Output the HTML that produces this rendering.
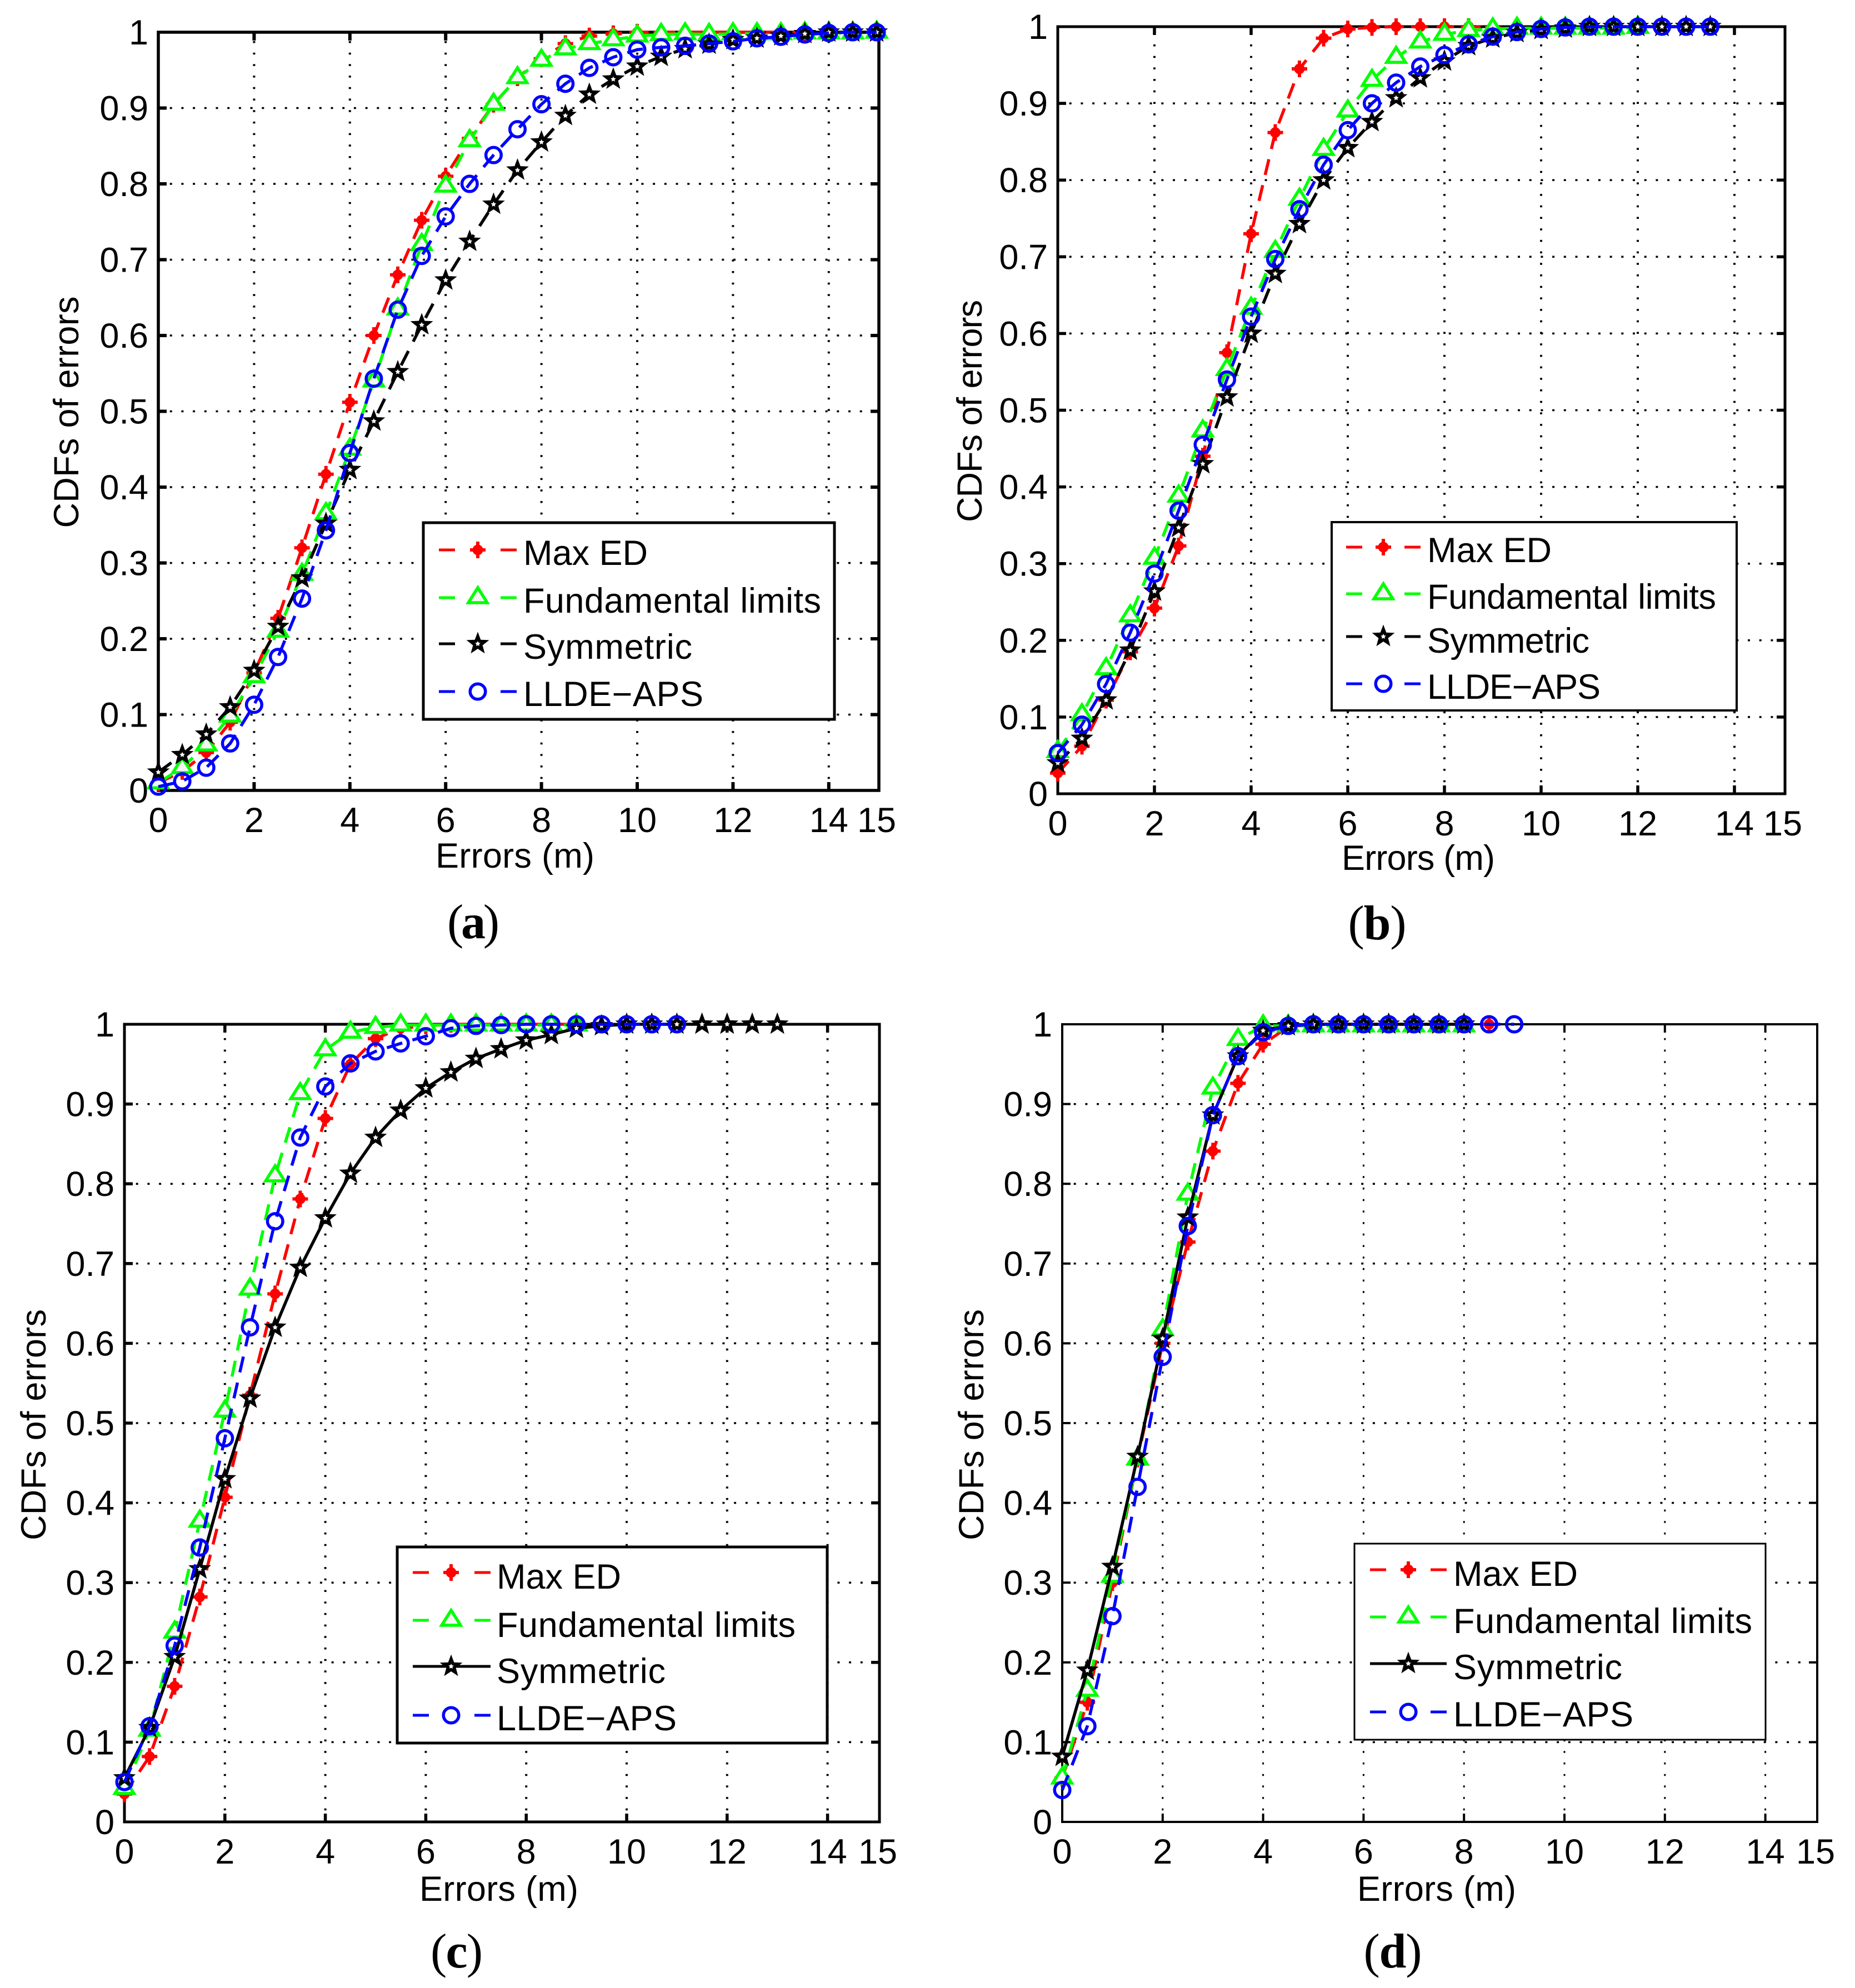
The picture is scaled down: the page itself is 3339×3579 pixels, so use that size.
<!DOCTYPE html>
<html lang="en">
<head>
<meta charset="utf-8">
<title>CDFs of errors</title>
<style>
html,body{margin:0;padding:0;background:#fff;}
svg{display:block;}
text{font-family:"Liberation Sans",sans-serif;fill:#000;}
.tick{font-size:63px;}
.title{font-size:63px;}
.leg{font-size:63px;}
.cap{font-family:"Liberation Serif",serif;font-size:88px;}
.cap tspan{font-weight:bold;}
</style>
</head>
<body>
<svg id="figure" width="3339" height="3579" viewBox="0 0 3339 3579" xmlns="http://www.w3.org/2000/svg">
  <rect width="3339" height="3579" fill="#fff"/>
  <g id="plot-a"></g>
  <g id="plot-b"></g>
  <g id="plot-c"></g>
  <g id="plot-d"></g>

  <text class="title" x="927" y="1562" text-anchor="middle" textLength="286">Errors (m)</text>
  <text class="title" transform="translate(141,742) rotate(-90)" text-anchor="middle" textLength="417">CDFs of errors</text>
  <text class="cap" x="852" y="1689" text-anchor="middle" textLength="94">(<tspan>a</tspan>)</text>

  <text class="title" x="2553" y="1566" text-anchor="middle" textLength="276">Errors (m)</text>
  <text class="title" transform="translate(1767,740) rotate(-90)" text-anchor="middle" textLength="400">CDFs of errors</text>
  <text class="cap" x="2479" y="1691" text-anchor="middle" textLength="105">(<tspan>b</tspan>)</text>

  <text class="title" x="898" y="3422" text-anchor="middle" textLength="286">Errors (m)</text>
  <text class="title" transform="translate(82,2565) rotate(-90)" text-anchor="middle" textLength="416">CDFs of errors</text>
  <text class="cap" x="822" y="3542" text-anchor="middle" textLength="94">(<tspan>c</tspan>)</text>

  <text class="title" x="2586" y="3422" text-anchor="middle" textLength="286">Errors (m)</text>
  <text class="title" transform="translate(1770,2565) rotate(-90)" text-anchor="middle" textLength="416">CDFs of errors</text>
  <text class="cap" x="2507" y="3542" text-anchor="middle" textLength="105">(<tspan>d</tspan>)</text>

  <g id="legend-a">
    <rect x="762" y="941" width="740" height="354" fill="#fff" stroke="#000" stroke-width="5"/>
    <text class="leg" x="942" y="1017">Max ED</text>
    <text class="leg" x="942" y="1103" textLength="536">Fundamental limits</text>
    <text class="leg" x="942" y="1186" textLength="304">Symmetric</text>
    <text class="leg" x="942" y="1271" textLength="324">LLDE&#8722;APS</text>
  </g>
  <g id="legend-b">
    <rect x="2397" y="940" width="729" height="339" fill="#fff" stroke="#000" stroke-width="4"/>
    <text class="leg" x="2569" y="1012">Max ED</text>
    <text class="leg" x="2569" y="1096" textLength="520">Fundamental limits</text>
    <text class="leg" x="2569" y="1175" textLength="292">Symmetric</text>
    <text class="leg" x="2569" y="1258" textLength="312">LLDE&#8722;APS</text>
  </g>
  <g id="legend-c">
    <rect x="715" y="2785" width="774" height="353" fill="#fff" stroke="#000" stroke-width="5"/>
    <text class="leg" x="894" y="2860">Max ED</text>
    <text class="leg" x="894" y="2947" textLength="538">Fundamental limits</text>
    <text class="leg" x="894" y="3030" textLength="304">Symmetric</text>
    <text class="leg" x="894" y="3115" textLength="324">LLDE&#8722;APS</text>
  </g>
  <g id="legend-d">
    <rect x="2438" y="2779" width="740" height="353" fill="#fff" stroke="#000" stroke-width="3"/>
    <text class="leg" x="2616" y="2855">Max ED</text>
    <text class="leg" x="2616" y="2940" textLength="538">Fundamental limits</text>
    <text class="leg" x="2616" y="3023" textLength="304">Symmetric</text>
    <text class="leg" x="2616" y="3108" textLength="324">LLDE&#8722;APS</text>
  </g>
</svg>
<script>
// ---- shared axis data ----
const errorGrid = [0,0.5,1,1.5,2,2.5,3,3.5,4,4.5,5,5.5,6,6.5,7,7.5,8,8.5,9,9.5,10,10.5,11,11.5,12,12.5,13,13.5,14,14.5,15];
const xTickValues = [0,2,4,6,8,10,12,14,15];
const xTickLabels = ['0','2','4','6','8','10','12','14','15'];
const yTickValues = [0,0.1,0.2,0.3,0.4,0.5,0.6,0.7,0.8,0.9,1];
const yTickLabels = ['0','0.1','0.2','0.3','0.4','0.5','0.6','0.7','0.8','0.9','1'];

// ---- panel (a) ----
const maxEdA = [.01,.025,.05,.09,.155,.227,.32,.417,.512,.6,.68,.752,.81,.86,.905,.94,.965,.985,.995,.998,1,1,1,1,1,1,1,1,1,1,1];
const fundA = [.01,.03,.06,.098,.15,.21,.285,.365,.45,.54,.635,.72,.797,.857,.905,.94,.963,.978,.985,.99,.995,.997,.998,.997,.998,.998,.998,.999,.999,.999,1];
const symA = [.024,.047,.074,.11,.158,.216,.28,.352,.423,.487,.552,.614,.673,.724,.773,.818,.855,.89,.918,.938,.955,.968,.978,.984,.99,.992,.995,.998,1,1,1];
const lldeA = [.005,.012,.03,.062,.113,.176,.253,.343,.445,.543,.634,.705,.757,.8,.838,.872,.905,.932,.953,.967,.977,.98,.982,.985,.988,.992,.994,.997,.999,1,1];

// ---- panel (b) ----
const maxEdB = [.027,.062,.122,.185,.242,.323,.44,.575,.73,.862,.945,.985,.997,.999,1,1,1,1,1];
const fundB = [.055,.103,.163,.232,.307,.388,.473,.553,.633,.707,.775,.84,.89,.93,.96,.98,.99,.995,.997,.998,.998,.998,.998,.998,.999];
const symB = [.04,.072,.122,.187,.264,.347,.43,.517,.6,.678,.743,.8,.842,.876,.907,.933,.955,.975,.985,.992,.996,.998,1,1,1,1,1,1];
const lldeB = [.053,.09,.143,.21,.287,.369,.455,.54,.622,.697,.762,.82,.865,.9,.927,.948,.963,.977,.987,.993,.997,.999,1,1,1,1,1,1];

// ---- panel (c) ----
const maxEdC = [.035,.082,.17,.282,.407,.535,.662,.781,.882,.95,.982,.995,.998,1,1,1,1,1,1];
const fundC = [.042,.115,.238,.377,.515,.668,.81,.913,.968,.99,.996,.999,.999,.999,.999,.999,.999,.999,.999];
const symC = [.055,.118,.207,.317,.43,.531,.62,.695,.757,.813,.858,.892,.92,.94,.957,.969,.98,.987,.995,.998,1,1,1,1,1,1,1];
const lldeC = [.05,.12,.221,.344,.481,.62,.753,.858,.922,.951,.966,.976,.985,.995,.998,.999,1,1,1,1,1,1,1];

// ---- panel (d) ----
const maxEdD = [.055,.15,.3,.455,.6,.727,.841,.926,.975,.997,1,1,1,1,1,1,1,1];
const fundD = [.055,.165,.308,.455,.617,.787,.92,.981,.998,.998,.998,.998,.998,.998,.998,.998,.998];
const symD = [.082,.19,.32,.458,.606,.758,.886,.96,.992,.998,1,1,1,1,1,1,1];
const lldeD = [.04,.12,.258,.42,.583,.747,.886,.96,.99,.998,1,1,1,1,1,1,1,1,1];

// ---- layout (separate from data) ----
const SVGNS = 'http://www.w3.org/2000/svg';
const RED = '#ff0000', GREEN = '#00ff00', BLACK = '#000000', BLUE = '#0000ff';
const DASH = '29 19';

const panels = [
  {id:'a', left:285, right:1582, xEnd:1578, top:58, bottom:1423, symSolid:false, axisW:5.5, tickW:6, gridW:4,
   series:[maxEdA,fundA,symA,lldeA],
   legendX:[790,860,930], legendY:[990,1076,1159,1245]},
  {id:'b', left:1904, right:3213, xEnd:3209, top:48, bottom:1429, symSolid:false, axisW:5, tickW:5.5, gridW:4,
   series:[maxEdB,fundB,symB,lldeB],
   legendX:[2423,2490,2557], legendY:[985,1069,1146,1231]},
  {id:'c', left:224, right:1583, xEnd:1580, top:1844, bottom:3280, symSolid:true, axisW:5, tickW:5.5, gridW:4,
   series:[maxEdC,fundC,symC,lldeC],
   legendX:[743,812,883], legendY:[2831,2917,3000,3088]},
  {id:'d', left:1912, right:3271, xEnd:3268, top:1844, bottom:3280, symSolid:true, axisW:4, tickW:4, gridW:3,
   series:[maxEdD,fundD,symD,lldeD],
   legendX:[2466,2535,2604], legendY:[2826,2911,2995,3082]}
];

function xAxis(p, v){ return p.left + (v / 15) * (p.xEnd - p.left); }
function yAxis(p, v){ return p.bottom - v * (p.bottom - p.top); }

function make(tag, parent, attrs){
  const n = document.createElementNS(SVGNS, tag);
  for (const k in attrs) n.setAttribute(k, attrs[k]);
  parent.appendChild(n);
  return n;
}

function line(parent, x1, y1, x2, y2, color, width, dash){
  const a = {x1:x1, y1:y1, x2:x2, y2:y2, stroke:color, 'stroke-width':width};
  if (dash) a['stroke-dasharray'] = dash;
  return make('line', parent, a);
}

function starPoints(x, y, R, r){
  const pts = [];
  for (let i = 0; i < 10; i++) {
    const d = i % 2 ? r : R;
    const t = -Math.PI / 2 + i * Math.PI / 5;
    pts.push((x + d * Math.cos(t)).toFixed(1) + ',' + (y + d * Math.sin(t)).toFixed(1));
  }
  return pts.join(' ');
}

function drawMarker(parent, kind, x, y, color){
  const g = make('g', parent, {});
  
  
  if (kind === 'max-ed') {
    line(g, x, y - 15, x, y + 15, color, 6);
    line(g, x - 14, y, x + 14, y, color, 6);
    make('circle', g, {cx:x, cy:y, r:9.5, fill:color});
  } else if (kind === 'fundamental') {
    const pts = [[x, y - 18], [x + 17, y + 9], [x - 17, y + 9]].map(function(q){ return q.join(','); }).join(' ');
    make('polygon', g, {points:pts, fill:'#f5f5f5', stroke:color, 'stroke-width':5.5});
  } else if (kind === 'symmetric') {
    make('polygon', g, {points:starPoints(x, y, 21.5, 9), fill:color});
    make('polygon', g, {points:starPoints(x, y, 5, 2.5), fill:'#ffffff'});
  } else {
    make('circle', g, {cx:x, cy:y, r:13.8, fill:'none', stroke:color, 'stroke-width':5.5});
  }
}

function drawAxes(p, root){
  const grid = make('g', root, {});
  
  
  xTickValues.forEach(function(v){
    if (v === 0 || v === 15) return;
    const x = xAxis(p, v);
    line(grid, x, p.bottom, x, p.top, '#000', p.gridW, '3.5 17.2');
  });
  yTickValues.forEach(function(v){
    if (v === 0 || v === 1) return;
    const y = yAxis(p, v);
    line(grid, p.left, y, p.right, y, '#000', 3.5, '4 16.7');
  });

  const box = make('rect', root, {x:p.left, y:p.top, width:p.right - p.left, height:p.bottom - p.top, fill:'none', stroke:'#000', 'stroke-width':p.axisW});
  
  

  xTickValues.forEach(function(v, i){
    const x = xAxis(p, v);
    if (v !== 0 && v !== 15) {
      line(root, x, p.bottom, x, p.bottom - 15, '#000', p.tickW);
      line(root, x, p.top, x, p.top + 15, '#000', p.tickW);
    }
    const t = make('text', root, {x:x, y:p.bottom + 75, 'text-anchor':'middle', 'class':'tick'});
    
    
    t.textContent = xTickLabels[i];
  });
  yTickValues.forEach(function(v, i){
    const y = yAxis(p, v);
    if (v !== 0 && v !== 1) {
      line(root, p.left, y, p.left + 15, y, '#000', p.tickW);
      line(root, p.right, y, p.right - 15, y, '#000', p.tickW);
    }
    const t = make('text', root, {x:p.left - 18, y:y + 22, 'text-anchor':'end', 'class':'tick'});
    
    
    t.textContent = yTickLabels[i];
  });
}

const seriesKinds = ['max-ed','fundamental','symmetric','llde-aps'];
const seriesColors = [RED, GREEN, BLACK, BLUE];

function drawSeries(p, root){
  p.series.forEach(function(values, s){
    const g = make('g', root, {});
    
    
    const pts = values.map(function(v, i){
      return xAxis(p, errorGrid[i]).toFixed(1) + ',' + yAxis(p, v).toFixed(1);
    }).join(' ');
    const solid = s === 2 && p.symSolid;
    const a = {points:pts, fill:'none', stroke:seriesColors[s], 'stroke-width':5.5, 'stroke-linejoin':'round'};
    if (!solid) a['stroke-dasharray'] = DASH;
    const pl = make('polyline', g, a);
    
    
    values.forEach(function(v, i){
      drawMarker(g, seriesKinds[s], xAxis(p, errorGrid[i]), yAxis(p, v), seriesColors[s]);
    });
  });
}

function drawLegendSamples(p, root){
  p.legendY.forEach(function(y, s){
    const g = make('g', root, {});
    
    
    const x0 = p.legendX[0], xm = p.legendX[1], x1 = p.legendX[2];
    if (s === 2 && p.symSolid) {
      line(g, x0, y, x1, y, seriesColors[s], 5);
    } else {
      line(g, x0, y, x0 + 29, y, seriesColors[s], 5);
      line(g, x1 - 29, y, x1, y, seriesColors[s], 5);
    }
    drawMarker(g, seriesKinds[s], xm, y, seriesColors[s]);
  });
}

panels.forEach(function(p){
  const root = document.getElementById('plot-' + p.id);
  drawAxes(p, root);
  drawSeries(p, root);
  drawLegendSamples(p, document.getElementById('legend-' + p.id));
});
</script>
</body>
</html>
